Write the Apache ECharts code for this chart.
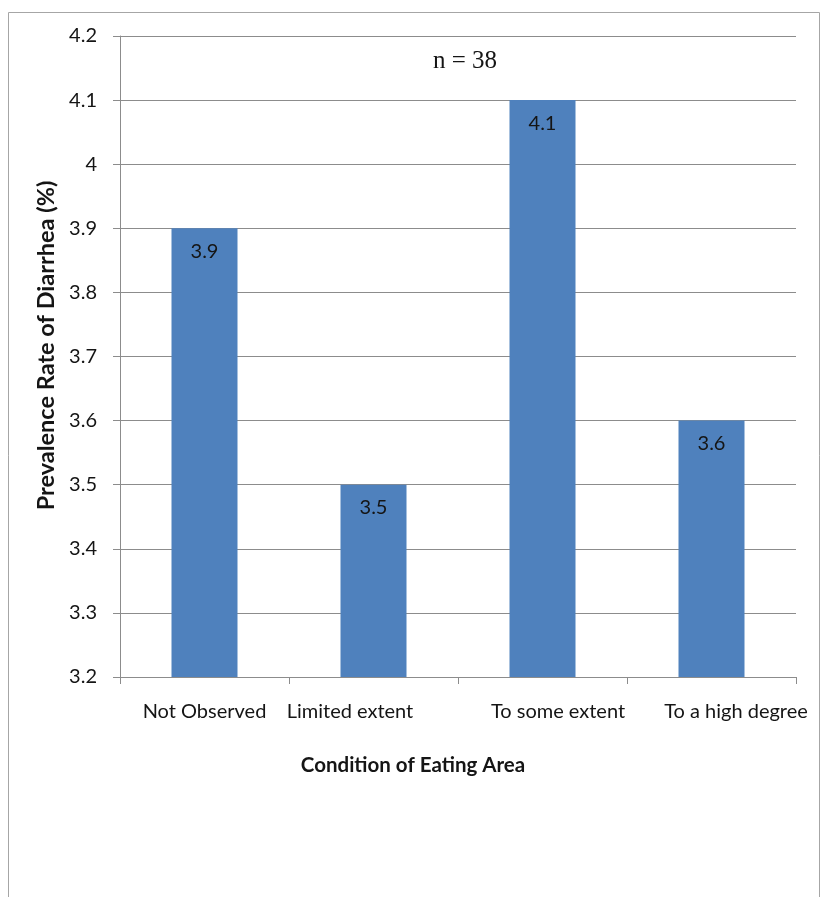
<!DOCTYPE html>
<html><head><meta charset="utf-8">
<script src="https://cdn.jsdelivr.net/npm/echarts@6/dist/echarts.min.js"></script>
<style>html,body{margin:0;padding:0;background:#fff}#c{width:821px;height:897px}</style>
</head><body><div id="c"></div>
<script>
const categories = ['Not Observed', 'Limited extent', 'To some extent', 'To a high degree'];
const prevalence = [3.9, 3.5, 4.1, 3.6];
const yTicks = [3.2, 3.3, 3.4, 3.5, 3.6, 3.7, 3.8, 3.9, 4, 4.1, 4.2];
const labelTags = ['a', 'b', 'c', 'd'];

const FONT = 'Lato';
const INK = '#151515';
const chart = echarts.init(document.getElementById('c'), null, {renderer: 'canvas'});
chart.setOption({
  animation: false,
  backgroundColor: '#fff',
  graphic: [{
    type: 'rect', shape: {x: 8.5, y: 12.5, width: 811, height: 900},
    style: {fill: 'none', stroke: '#a6a6a6', lineWidth: 1}, silent: true
  }],
  title: {
    text: 'n = 38', left: 428, top: 44,
    textStyle: {fontFamily: 'Liberation Serif', fontSize: 25, fontWeight: 'normal', color: INK}
  },
  grid: {left: 120, right: 25, top: 36, bottom: 220, containLabel: false},
  xAxis: {
    type: 'category', data: categories,
    name: 'Condition of Eating Area', nameLocation: 'middle', nameGap: 78,
    nameTextStyle: {fontFamily: FONT, fontSize: 20.5, fontWeight: 'bold', color: INK, padding: [0, 90, 0, 0]},
    axisLine: {lineStyle: {color: '#8c8c8c', width: 1}},
    axisTick: {show: true, length: 7, alignWithLabel: false, lineStyle: {color: '#8c8c8c'}},
    axisLabel: {
      interval: 0, margin: 25, fontFamily: FONT, fontSize: 20, color: INK,
      formatter: (v, i) => '{' + labelTags[i] + '|' + v + '}',
      rich: {
        a: {fontFamily: FONT, fontSize: 20, color: INK},
        b: {fontFamily: FONT, fontSize: 20, color: INK, padding: [0, 47, 0, 0]},
        c: {fontFamily: FONT, fontSize: 20, color: INK, padding: [0, 0, 0, 31]},
        d: {fontFamily: FONT, fontSize: 20, color: INK, padding: [0, 0, 0, 49]}
      }
    }
  },
  yAxis: {
    type: 'value', min: yTicks[0], max: yTicks[yTicks.length - 1], interval: 0.1,
    name: 'Prevalence Rate of Diarrhea (%)', nameLocation: 'middle', nameGap: 53,
    nameTextStyle: {fontFamily: FONT, fontSize: 23.5, fontWeight: 'bold', color: INK, padding: [0, 0, 0, 22]},
    axisLine: {show: true, lineStyle: {color: '#8c8c8c', width: 1}},
    axisTick: {show: true, inside: false, length: 7, lineStyle: {color: '#8c8c8c'}},
    axisLabel: {
      margin: 23, fontFamily: FONT, fontSize: 20, color: INK,
      formatter: v => { const r = Math.round(v * 10) / 10; return yTicks.includes(r) ? String(r) : ''; }
    },
    splitLine: {show: true, lineStyle: {color: '#8c8c8c', width: 1}}
  },
  series: [{
    type: 'bar', data: prevalence, barWidth: 66,
    itemStyle: {color: '#4F81BD'},
    label: {
      show: true, position: 'insideTop', distance: 13,
      fontFamily: FONT, fontSize: 20, color: INK,
      formatter: p => String(p.value)
    }
  }]
});
</script></body></html>
